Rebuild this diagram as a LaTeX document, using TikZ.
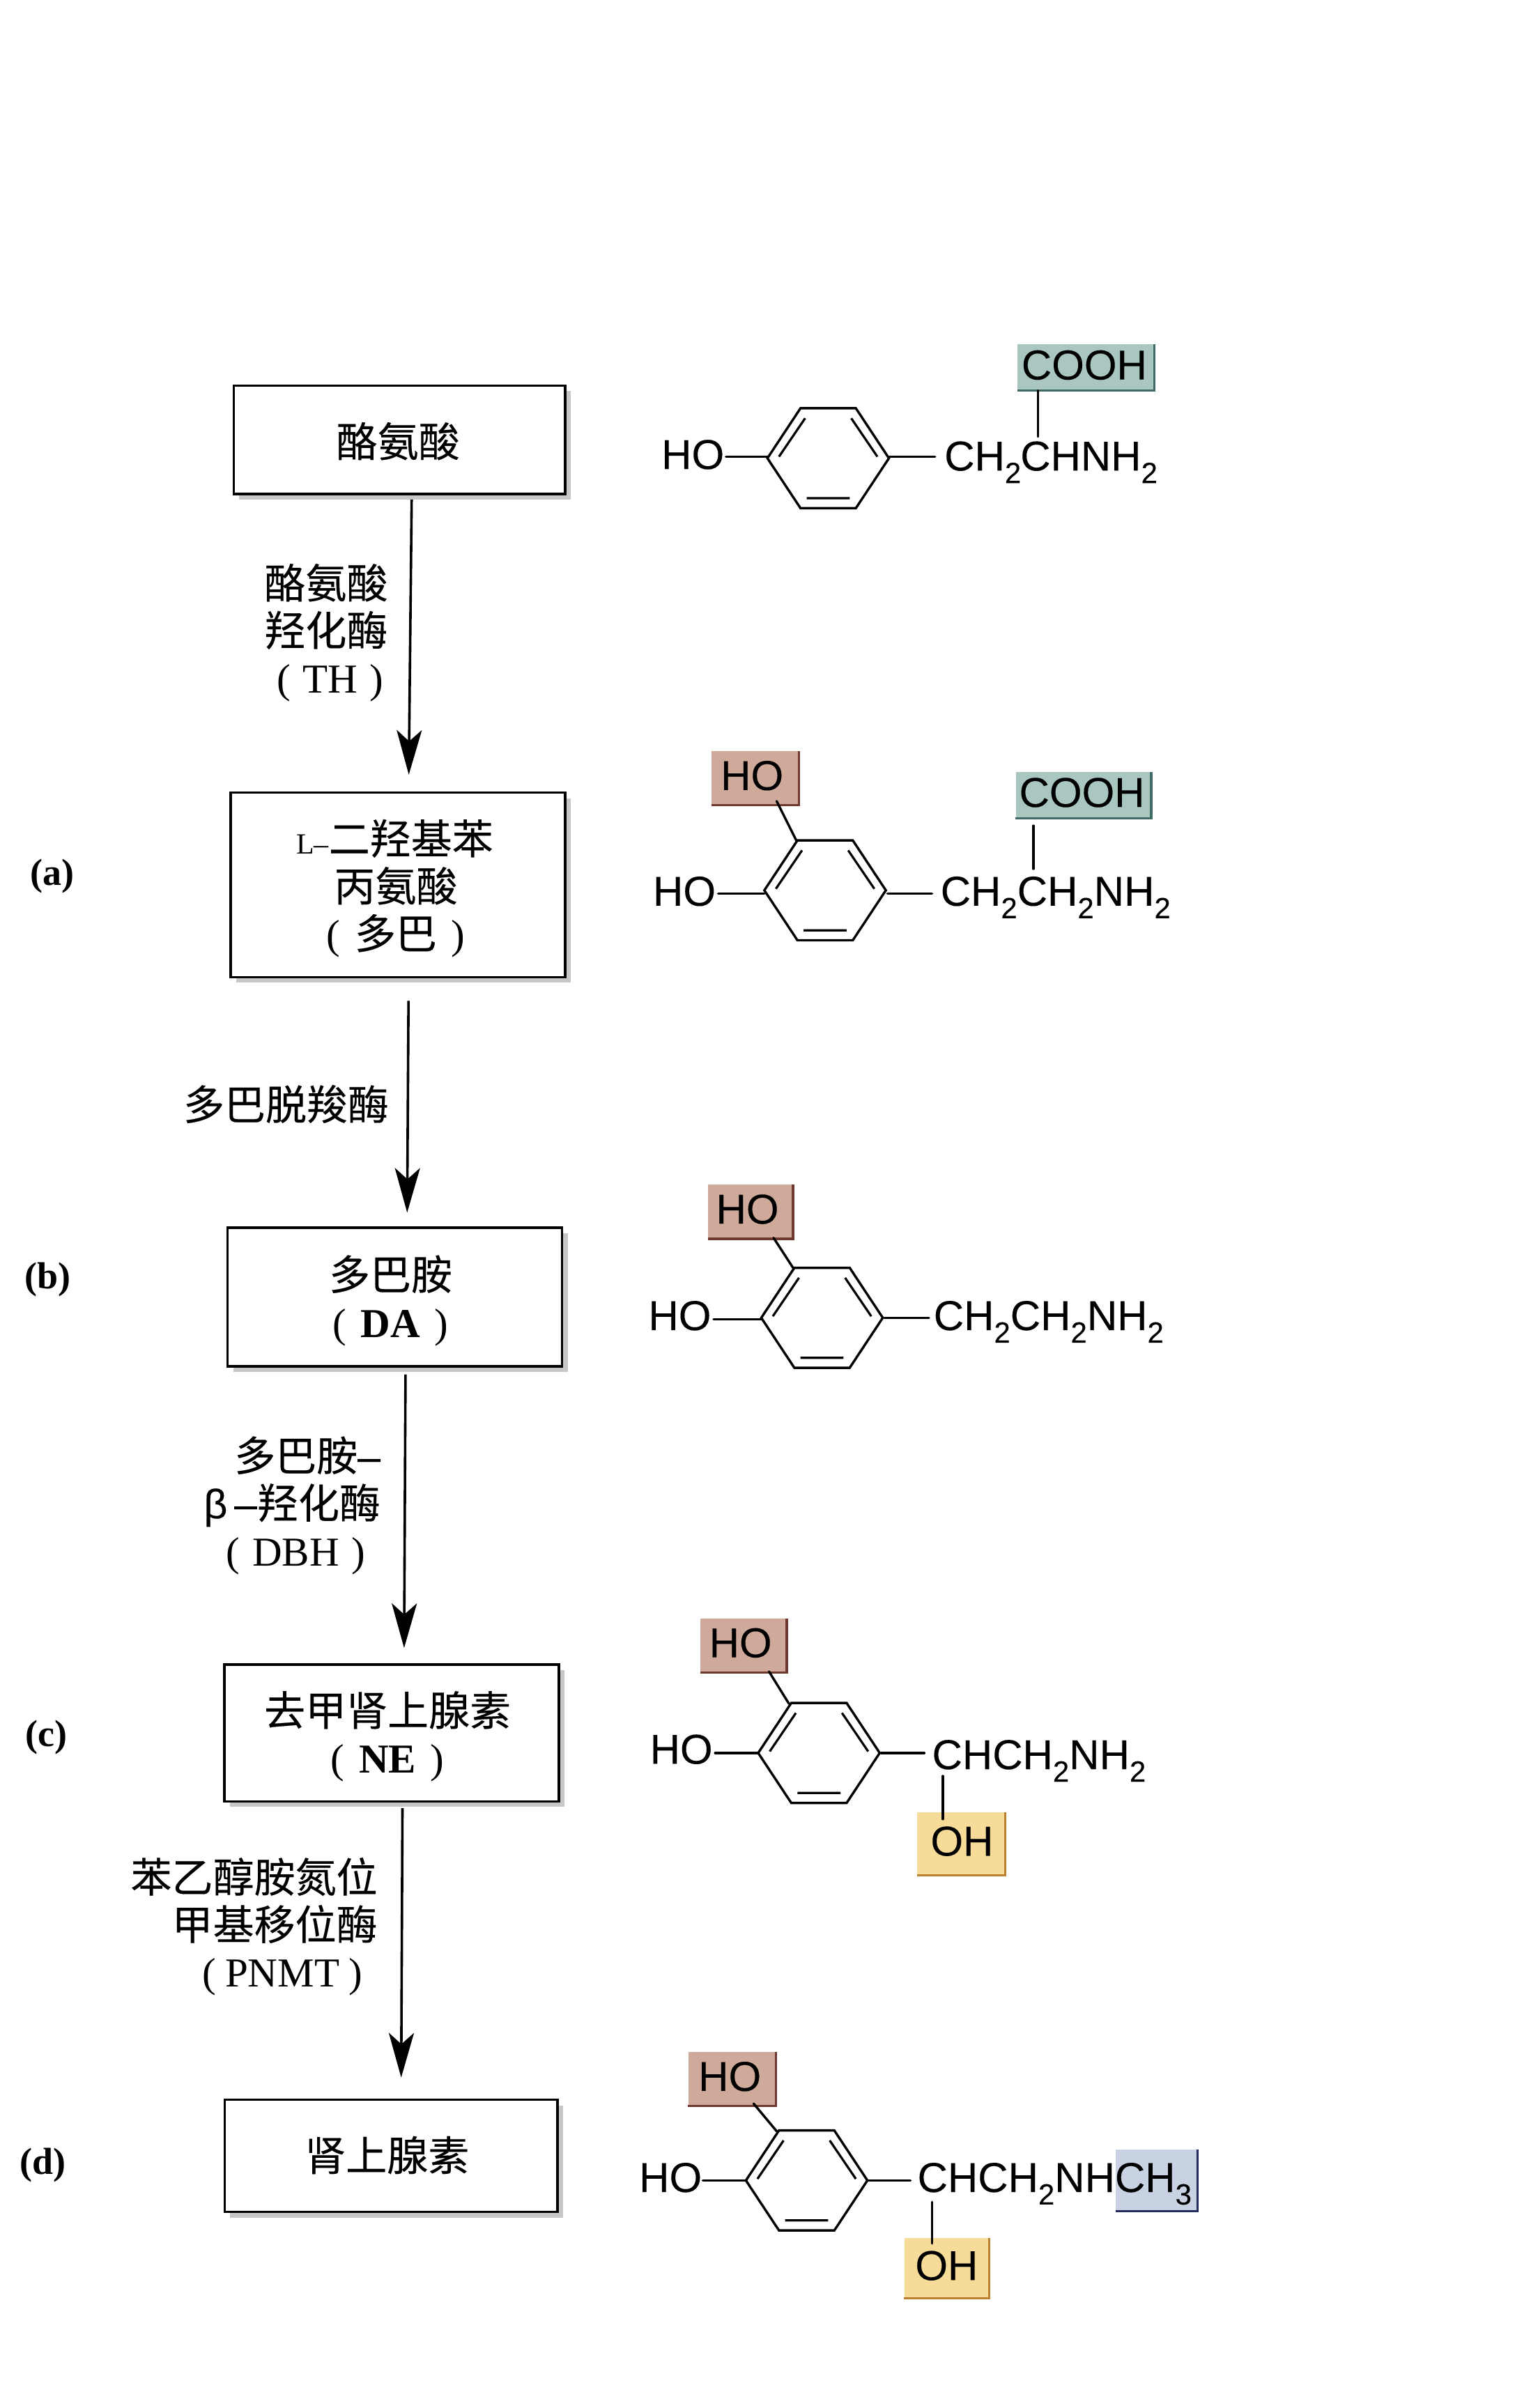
\documentclass[tikz,border=0pt]{standalone}
\usepackage{fontspec}
\usetikzlibrary{arrows.meta,shadows}
\setmainfont{Liberation Serif}
\newfontfamily\zh[FakeBold=0.25]{Noto Sans CJK SC}
\newfontfamily\hv[FakeBold=0.12]{Liberation Sans}
\newcommand\sbs[1]{\raisebox{-0.3em}{\fontsize{42}{42}\selectfont #1}}
\newcommand\chemtag[9]{%
  \node[tagbox,fill=#6,minimum width=#4*2.207pt,minimum height=#5*2.207pt] (#1) at (#2,#3) {};
  \draw[#7,line width=3.4pt] (#1.north east) -- (#1.south east) -- (#1.south west);
  \node[chem,anchor=center,xshift=#9*2.207pt,yshift=3.5pt] (#1t) at (#2,#3) {#8};
}
\definecolor{tealtag}{HTML}{A9C6C0}
\definecolor{tealedge}{HTML}{3F6A66}
\definecolor{rosetag}{HTML}{CFAA9B}
\definecolor{roseedge}{HTML}{6E3A30}
\definecolor{yeltag}{HTML}{F6DC98}
\definecolor{yeledge}{HTML}{B9802F}
\definecolor{bluetag}{HTML}{C9D2E2}
\definecolor{blueedge}{HTML}{232B5C}
\definecolor{boxfill}{HTML}{FFFFFD}
\tikzset{
  flowbox/.style={draw=black,line width=3.6pt,fill=boxfill,inner sep=0pt,
    drop shadow={shadow xshift=8pt,shadow yshift=-8pt,fill=black!22,opacity=1}},
  enz/.style={inner sep=0pt,align=center,font=\zh\fontsize{59}{68}\selectfont},
  tag/.style={inner sep=0pt,font=\bfseries\fontsize{54}{60}\selectfont},
  chem/.style={inner sep=0pt,anchor=base west,font=\hv\fontsize{60}{60}\selectfont},
  tagbox/.style={inner sep=0pt,draw=none},
  bond/.style={line width=3.4pt,line cap=round},
  flow/.style={line width=3.6pt,-{Stealth[length=64pt,width=36pt,inset=16pt]}},
  ring/.pic={
    \draw[line width=3.4pt,line join=miter] (-39.5,0) -- (-18,-32.5) -- (18,-32.5) -- (39.5,0) -- (18,32.5) -- (-18,32.5) -- cycle;
    \draw[line width=3.2pt] (-32,-1) -- (-15,-26) (32,-1) -- (15,-26) (-14,26) -- (14,26);
  }
}
\begin{document}
\begin{tikzpicture}[x=2.207pt,y=-2.207pt]
\useasboundingbox (0,0) rectangle (1000,1566);
\fill[white] (0,0) rectangle (1000,1566);

% flow boxes
\node[flowbox,minimum width=215.5*2.207pt,minimum height=70.5*2.207pt,
  label={[enz,xshift=-2pt,yshift=-2pt]center:{酪氨酸}}] (b1) at (259.7,286) {};
\node[flowbox,minimum width=217.5*2.207pt,minimum height=120*2.207pt,
  label={[enz,xshift=-3pt,yshift=-5pt]center:{\hspace{-0.05em}{\fontsize{42}{68}\selectfont\rmfamily L–}二羟基苯\\丙氨酸\\{\rmfamily(}\hspace{0.35em}多巴\hspace{0.35em}{\rmfamily)}}}] (b2) at (258.7,575.5) {};
\node[flowbox,minimum width=217.5*2.207pt,minimum height=90*2.207pt,
  label={[enz,xshift=-6pt,yshift=-5pt]center:{多巴胺\\{\rmfamily(\hspace{0.35em}\textbf{DA}\hspace{0.35em})}}}] (b3) at (256.7,843.5) {};
\node[flowbox,minimum width=217.5*2.207pt,minimum height=89*2.207pt,
  label={[enz,xshift=-6pt,yshift=-5pt]center:{去甲肾上腺素\\{\rmfamily(\hspace{0.35em}\textbf{NE}\hspace{0.35em})}}}] (b4) at (254.7,1127) {};
\node[flowbox,minimum width=216.5*2.207pt,minimum height=73*2.207pt,
  label={[enz,xshift=-6pt,yshift=1pt]center:{肾上腺素}}] (b5) at (254.3,1402) {};

% flow arrows
\draw[flow,shorten <=6pt,shorten >=24pt] ([xshift=8*2.207pt]b1.south) -- ([xshift=7*2.207pt]b2.north);
\draw[flow,shorten <=32pt,shorten >=20pt] ([xshift=7*2.207pt]b2.south) -- ([xshift=8*2.207pt]b3.north);
\draw[flow,shorten <=10pt,shorten >=22pt] ([xshift=7*2.207pt]b3.south) -- ([xshift=8*2.207pt]b4.north);
\draw[flow,shorten <=8pt,shorten >=30pt] ([xshift=7*2.207pt]b4.south) -- ([xshift=6.5*2.207pt]b5.north);

% enzyme labels
\node[enz] (e1) at (212,411.5) {酪氨酸\\羟化酶\\{\rmfamily\hspace{0.2em}(\hspace{0.3em}TH\hspace{0.3em})}};
\node[enz] (e2) at (186,718) {多巴脱羧酶};
\node[enz,align=right,anchor=east] (e3) at (247.5,979) {多巴胺{\hv –}\\{\hv β\,–}羟化酶\\{\rmfamily(\hspace{0.3em}DBH\hspace{0.3em})\hspace*{0.37em}}};
\node[enz,align=right,anchor=east] (e4) at (245.5,1253) {苯乙醇胺氮位\\甲基移位酶\\{\rmfamily(\hspace{0.22em}PNMT\hspace{0.22em})\hspace*{0.37em}}};

% side tags
\node[tag] (ta) at (34,570) {(a)};
\node[tag] (tb) at (31,832) {(b)};
\node[tag] (tc) at (30,1130) {(c)};
\node[tag] (td) at (28,1408) {(d)};

% structure 1: tyrosine
\pic at (538.5,298) {ring};
\node[chem] (s1ho) at (430,305) {HO};
\draw[bond] (472,297) -- (499,297);
\draw[bond] (578,297) -- (608,297);
\node[chem] (s1c) at (614,306) {CH\sbs{2}\hspace{-1pt}CHNH\sbs{2}};
\chemtag{s1a}{706}{239}{89}{30}{tealtag}{tealedge}{COOH}{-1}
\draw[bond] (675,254) -- (675,284);

% structure 2: L-DOPA
\pic at (536.5,579) {ring};
\chemtag{s2a}{491}{506}{57}{35}{rosetag}{roseedge}{HO}{-2}
\draw[bond] (505,521) -- (518,547);
\node[chem] (s2ho) at (424.5,589) {HO};
\draw[bond] (467,581) -- (497,581);
\draw[bond] (577,581) -- (606,581);
\node[chem] (s2c) at (611.5,589) {CH\sbs{2}CH\sbs{2}NH\sbs{2}};
\chemtag{s2b}{704.5}{517}{88}{30}{tealtag}{tealedge}{COOH}{-1}
\draw[bond] (672,537) -- (672,565);

% structure 3: dopamine
\pic at (534.5,857) {ring};
\chemtag{s3a}{488}{788}{55}{35}{rosetag}{roseedge}{HO}{-2}
\draw[bond] (503,805) -- (516,825);
\node[chem] (s3ho) at (421.5,865) {HO};
\draw[bond] (464,858) -- (495,858);
\draw[bond] (575,857) -- (604,857);
\node[chem] (s3c) at (607,865) {CH\sbs{2}CH\sbs{2}NH\sbs{2}};

% structure 4: noradrenaline
\pic at (532.5,1140) {ring};
\chemtag{s4a}{483.5}{1070}{56}{35}{rosetag}{roseedge}{HO}{-2}
\draw[bond] (500,1087) -- (513,1108);
\node[chem] (s4ho) at (422.5,1147) {HO};
\draw[bond] (465,1140) -- (493,1140);
\draw[bond] (573,1140) -- (601,1140);
\node[chem] (s4c) at (606,1150.5) {CHCH\sbs{2}NH\sbs{2}};
\chemtag{s4b}{625}{1199}{57}{41}{yeltag}{yeledge}{OH}{0.5}
\draw[bond] (613,1155) -- (613,1183);

% structure 5: adrenaline
\pic at (524.5,1418) {ring};
\chemtag{s5a}{476}{1352}{57}{35}{rosetag}{roseedge}{HO}{-1.5}
\draw[bond] (490,1368) -- (505,1386);
\node[chem] (s5ho) at (415.5,1425.5) {HO};
\draw[bond] (457,1418) -- (485,1418);
\draw[bond] (564,1418) -- (592,1418);
\chemtag{s5c}{752}{1418}{53}{40}{bluetag}{blueedge}{}{0}
\node[chem] (s5t) at (596.5,1425.5) {CHCH\sbs{2}NHCH\sbs{3}};
\chemtag{s5b}{615.5}{1475}{55}{39}{yeltag}{yeledge}{OH}{0}
\draw[bond] (606,1432) -- (606,1459);
\end{tikzpicture}
\end{document}
